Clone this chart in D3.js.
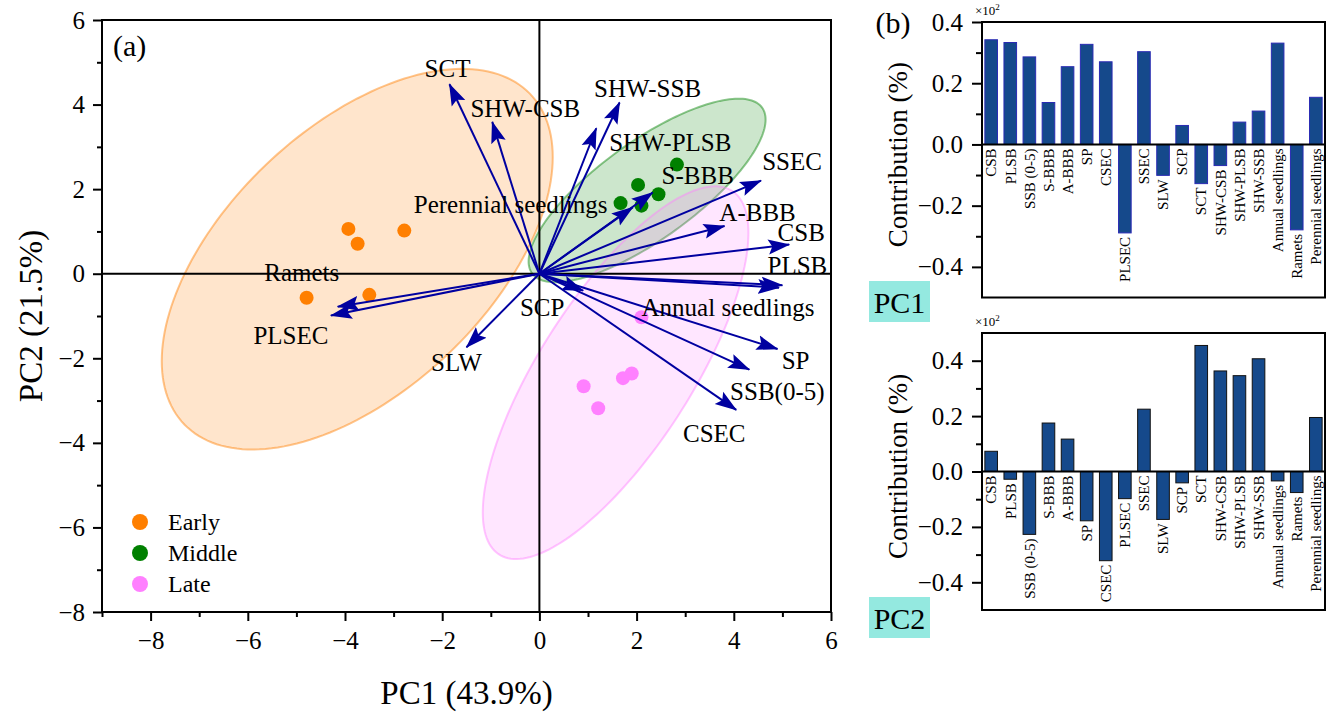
<!DOCTYPE html>
<html>
<head>
<meta charset="utf-8">
<script src="https://cdn.jsdelivr.net/npm/d3@7"></script>
<style>
  body { margin: 0; background: #fff; }
  svg, svg text { font-family: "Liberation Serif", "Times New Roman", serif; }
</style>
</head>
<body>
<svg width="1334" height="719"></svg>
<script>
// PCA scores
const earlyPC1 = [-3.93, -3.74, -2.78, -4.79, -3.50];
const earlyPC2 = [1.06, 0.71, 1.02, -0.57, -0.50];
const middlePC1 = [2.83, 2.03, 2.45, 1.67, 2.10];
const middlePC2 = [2.58, 2.10, 1.88, 1.67, 1.61];
const latePC1 = [2.10, 0.91, 1.21, 1.72, 1.90];
const latePC2 = [-1.03, -2.66, -3.18, -2.47, -2.36];
const groupNames = ["Early", "Middle", "Late"];

// loading arrows (tips, in PC units)
const arrowVars = ["SCT", "SHW-CSB", "SHW-SSB", "SHW-PLSB", "S-BBB", "Perennial seedlings",
  "SSEC", "A-BBB", "CSB", "PLSB", "Annual seedlings", "SCP", "SP", "SSB(0-5)", "CSEC",
  "SLW", "Ramets", "PLSEC"];
const arrowPC1 = [-1.85, -0.97, 1.65, 1.17, 1.92, 2.33, 4.56, 3.81, 5.14, 5.00, 4.93, 0.90,
  4.90, 4.32, 4.05, -1.50, -4.15, -4.29];
const arrowPC2 = [4.48, 3.59, 4.05, 3.44, 1.57, 1.92, 2.20, 1.13, 0.69, -0.27, -0.33, -0.40,
  -1.78, -2.27, -3.22, -1.74, -0.78, -0.99];

// contributions (x10^2)
const contribVars = ["CSB", "PLSB", "SSB (0-5)", "S-BBB", "A-BBB", "SP", "CSEC", "PLSEC",
  "SSEC", "SLW", "SCP", "SCT", "SHW-CSB", "SHW-PLSB", "SHW-SSB", "Annual seedlings",
  "Ramets", "Perennial seedlings"];
const contribPC1 = [0.342, 0.333, 0.286, 0.137, 0.254, 0.327, 0.270, -0.289, 0.303, -0.101,
  0.062, -0.128, -0.069, 0.073, 0.109, 0.331, -0.279, 0.154];
const contribPC2 = [0.073, -0.028, -0.227, 0.175, 0.117, -0.178, -0.322, -0.098, 0.225,
  -0.173, -0.041, 0.455, 0.363, 0.346, 0.407, -0.034, -0.076, 0.195];

const pcaMajorTicks = [-8, -6, -4, -2, 0, 2, 4, 6];
const barMajorTicks = [-0.4, -0.2, 0.0, 0.2, 0.4];

// style bits
const groupColors = ["#ff7f00", "#008000", "#ff80ff"];
const arrowColor = "#0000a0";
const serif = "Liberation Serif";
// label offsets (px) from arrow tips
const labelOffset = {
  "SCT": [-2, -16], "SHW-CSB": [33, -14], "SHW-SSB": [28, -14], "SHW-PLSB": [74, 14],
  "S-BBB": [65, -32], "Perennial seedlings": [-142, 12], "SSEC": [31, -19], "A-BBB": [33, -14],
  "CSB": [12, -12], "PLSB": [15, -20], "Annual seedlings": [-51, 20], "SCP": [-41, 17],
  "SP": [18, 11], "SSB(0-5)": [28, 22], "CSEC": [-22, 23], "SLW": [-10, 15],
  "Ramets": [-36, -34], "PLSEC": [-40, 20]
};

const svg = d3.select("svg");

// ---------- (a) biplot ----------
const x = d3.scaleLinear().domain([-9, 6]).range([102, 831]);
const y = d3.scaleLinear().domain([-8, 6]).range([612, 20]);

svg.append("clipPath").attr("id", "pcaClip")
  .append("rect")
  .attr("x", x(-9)).attr("y", y(6))
  .attr("width", x(6) - x(-9)).attr("height", y(-8) - y(6));

// 95% prediction ellipse, like Origin draws
const F95 = 9.5521; // F(0.95; 2, n-2) for n = 5
function predEllipse(xs, ys) {
  const n = xs.length;
  const mx = d3.mean(xs), my = d3.mean(ys);
  const sxx = d3.variance(xs), syy = d3.variance(ys);
  const sxy = d3.sum(xs.map((v, i) => (v - mx) * (ys[i] - my))) / (n - 1);
  const k = Math.sqrt(2 * (n - 1) * (n + 1) / (n * (n - 2)) * F95);
  const l11 = Math.sqrt(sxx), l21 = sxy / l11, l22 = Math.sqrt(syy - l21 * l21);
  return d3.range(0, 360, 2).map(a => {
    const t = a * Math.PI / 180, c = Math.cos(t), s = Math.sin(t);
    return [mx + k * l11 * c, my + k * (l21 * c + l22 * s)];
  });
}

const groupData = [[earlyPC1, earlyPC2], [middlePC1, middlePC2], [latePC1, latePC2]];

const ellLine = d3.line().x(d => x(d[0])).y(d => y(d[1])).curve(d3.curveLinearClosed);
const ellG = svg.append("g").attr("clip-path", "url(#pcaClip)");
groupData.forEach((g, i) => {
  ellG.append("path")
    .attr("d", ellLine(predEllipse(g[0], g[1])))
    .attr("fill", groupColors[i]).attr("fill-opacity", 0.2)
    .attr("stroke", groupColors[i]).attr("stroke-opacity", 0.45)
    .attr("stroke-width", 2);
});

// zero lines
svg.append("line").attr("x1", x(-9)).attr("x2", x(6)).attr("y1", y(0)).attr("y2", y(0))
  .attr("stroke", "#000").attr("stroke-width", 2);
svg.append("line").attr("x1", x(0)).attr("x2", x(0)).attr("y1", y(-8)).attr("y2", y(6))
  .attr("stroke", "#000").attr("stroke-width", 2);

// axes
function styleAxis(g) {
  g.attr("font-family", null).attr("font-size", null);
  g.select(".domain").remove();
  g.selectAll(".tick line").attr("stroke", "#000").attr("stroke-width", 2);
  g.selectAll(".tick text").attr("fill", "#000")
    .style("font-family", serif).style("font-size", "25px");
}
svg.append("g").attr("transform", `translate(${x(-9)},0)`)
  .call(d3.axisLeft(y).tickValues(pcaMajorTicks).tickSize(9).tickPadding(8))
  .call(styleAxis);
svg.append("g").attr("transform", `translate(${x(-9)},0)`)
  .call(d3.axisLeft(y).tickValues(d3.range(-7, 6, 2)).tickSize(5).tickFormat(""))
  .call(styleAxis);
svg.append("g").attr("transform", `translate(0,${y(-8)})`)
  .call(d3.axisBottom(x).tickValues(pcaMajorTicks).tickSize(9).tickPadding(10))
  .call(styleAxis);
svg.append("g").attr("transform", `translate(0,${y(-8)})`)
  .call(d3.axisBottom(x).tickValues(d3.range(-9, 6, 2)).tickSize(5).tickFormat(""))
  .call(styleAxis);

svg.append("rect")
  .attr("x", x(-9)).attr("y", y(6))
  .attr("width", x(6) - x(-9)).attr("height", y(-8) - y(6))
  .attr("fill", "none").attr("stroke", "#000").attr("stroke-width", 2);

// points
groupData.forEach((g, i) => {
  svg.append("g").selectAll("circle")
    .data(g[0].map((v, j) => [v, g[1][j]]))
    .join("circle")
    .attr("cx", d => x(d[0])).attr("cy", d => y(d[1]))
    .attr("r", 7).attr("fill", groupColors[i]);
});

// arrows
svg.append("defs").append("marker")
  .attr("id", "head").attr("markerUnits", "userSpaceOnUse")
  .attr("viewBox", "0 -8 22 16").attr("refX", 21).attr("refY", 0)
  .attr("markerWidth", 22).attr("markerHeight", 16).attr("orient", "auto")
  .append("path").attr("d", "M0,-7.5L22,0L0,7.5L4,0Z").attr("fill", arrowColor);

const arrows = arrowVars.map((v, i) => ({ name: v, px: arrowPC1[i], py: arrowPC2[i] }));
svg.append("g").selectAll("line")
  .data(arrows)
  .join("line")
  .attr("x1", x(0)).attr("y1", y(0))
  .attr("x2", d => x(d.px)).attr("y2", d => y(d.py))
  .attr("stroke", arrowColor).attr("stroke-width", 2)
  .attr("marker-end", "url(#head)");

svg.append("g").selectAll("text")
  .data(arrows)
  .join("text")
  .attr("x", d => x(d.px) + labelOffset[d.name][0])
  .attr("y", d => y(d.py) + labelOffset[d.name][1])
  .attr("dy", "0.35em")
  .attr("text-anchor", "middle")
  .attr("font-size", 25)
  .text(d => d.name);

// legend
const legend = svg.append("g");
groupNames.forEach((name, i) => {
  legend.append("circle").attr("cx", 140).attr("cy", 522 + i * 31)
    .attr("r", 8).attr("fill", groupColors[i]);
  legend.append("text").attr("x", 168).attr("y", 522 + i * 31).attr("dy", "0.35em")
    .attr("font-size", 24).text(name);
});

svg.append("text").attr("x", 113).attr("y", 56).attr("font-size", 30).text("(a)");

svg.append("text")
  .attr("x", (x(-9) + x(6)) / 2).attr("y", 704)
  .attr("text-anchor", "middle").attr("font-size", 33)
  .text("PC1 (43.9%)");
svg.append("text")
  .attr("transform", `translate(42,${(y(6) + y(-8)) / 2}) rotate(-90)`)
  .attr("text-anchor", "middle").attr("font-size", 33)
  .text("PC2 (21.5%)");

// ---------- (b) contribution bars ----------
const xb = d3.scaleBand().domain(contribVars).range([982, 1325])
  .paddingInner(0.34).paddingOuter(0.15);

function barPanel(values, yDomain, top, bottom, barStroke, pcName, boxTop) {
  const yb = d3.scaleLinear().domain(yDomain).range([bottom, top]);
  const g = svg.append("g");

  g.append("g")
    .attr("transform", `translate(${xb.range()[0]},0)`)
    .call(d3.axisLeft(yb).tickValues(barMajorTicks).tickFormat(d3.format(".1f"))
      .tickSize(10).tickPadding(9))
    .call(styleAxis);
  g.append("g")
    .attr("transform", `translate(${xb.range()[0]},0)`)
    .call(d3.axisLeft(yb).tickValues([-0.3, -0.1, 0.1, 0.3]).tickSize(6).tickFormat(""))
    .call(styleAxis);

  g.append("g").selectAll("rect")
    .data(values)
    .join("rect")
    .attr("x", (d, i) => xb(contribVars[i]))
    .attr("width", xb.bandwidth())
    .attr("y", d => yb(Math.max(0, d)))
    .attr("height", d => Math.abs(yb(d) - yb(0)))
    .attr("fill", "#15498b")
    .attr("stroke", barStroke).attr("stroke-width", 1);

  g.append("line")
    .attr("x1", xb.range()[0]).attr("x2", xb.range()[1])
    .attr("y1", yb(0)).attr("y2", yb(0))
    .attr("stroke", "#000").attr("stroke-width", 2);

  g.append("g").selectAll("text")
    .data(values)
    .join("text")
    .attr("transform", (d, i) =>
      `translate(${xb(contribVars[i]) + xb.bandwidth() / 2},${yb(Math.min(0, d)) + 4}) rotate(-90)`)
    .attr("text-anchor", "end")
    .attr("dy", "0.35em")
    .attr("font-size", 15)
    .text((d, i) => contribVars[i]);

  g.append("rect")
    .attr("x", xb.range()[0]).attr("y", top)
    .attr("width", xb.range()[1] - xb.range()[0]).attr("height", bottom - top)
    .attr("fill", "none").attr("stroke", "#000").attr("stroke-width", 2);

  const mult = g.append("text").attr("x", xb.range()[0] - 7).attr("y", top - 7)
    .attr("font-size", 13);
  mult.append("tspan").text("\u00d710");
  mult.append("tspan").attr("dy", -5).attr("font-size", 9).text("2");

  g.append("text")
    .attr("transform", `translate(907,${(top + bottom) / 2 - 5}) rotate(-90)`)
    .attr("text-anchor", "middle").attr("font-size", 27)
    .text("Contribution (%)");

  g.append("rect").attr("x", 869).attr("y", boxTop).attr("width", 61).attr("height", 41)
    .attr("fill", "#94e9e0");
  g.append("text").attr("x", 899.5).attr("y", boxTop + 32)
    .attr("text-anchor", "middle").attr("font-size", 30).text(pcName);
}

barPanel(contribPC1, [-0.5, 0.4], 22, 297.5, "#2a2ab4", "PC1", 281);
barPanel(contribPC2, [-0.5, 0.5], 333, 610, "#111", "PC2", 597);

svg.append("text").attr("x", 893).attr("y", 33).attr("text-anchor", "middle")
  .attr("font-size", 30).text("(b)");
</script>
</body>
</html>
